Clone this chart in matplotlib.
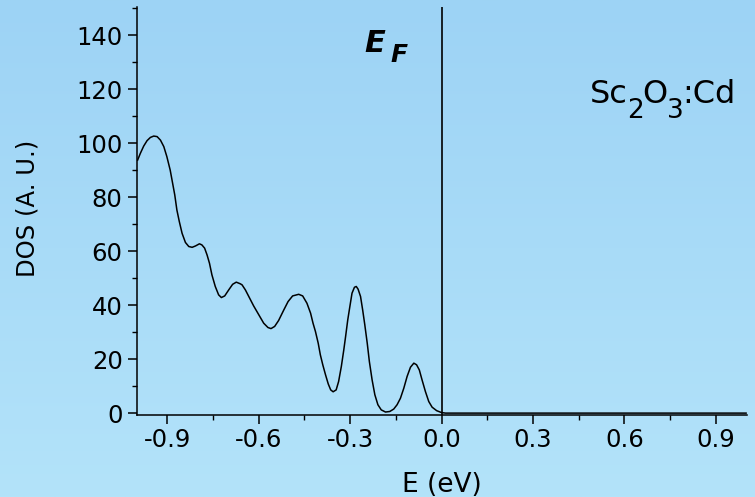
import matplotlib
matplotlib.use("Agg")
import matplotlib.pyplot as plt
import numpy as np
from matplotlib.ticker import MultipleLocator, FixedLocator

# DOS curve (E in eV, DOS in arbitrary units)
energy = [-0.998, -0.989, -0.978, -0.967, -0.956, -0.945, -0.934, -0.923,
          -0.912, -0.902, -0.891, -0.883, -0.876, -0.869, -0.861, -0.852,
          -0.841, -0.830, -0.819, -0.808, -0.795, -0.787, -0.778, -0.770,
          -0.762, -0.754, -0.743, -0.732, -0.723, -0.712, -0.699, -0.686,
          -0.674, -0.661, -0.655, -0.644, -0.633, -0.617, -0.600, -0.584,
          -0.570, -0.560, -0.548, -0.535, -0.518, -0.504, -0.489, -0.469,
          -0.456, -0.442, -0.430, -0.422, -0.414, -0.405, -0.398, -0.390,
          -0.381, -0.372, -0.364, -0.356, -0.346, -0.338, -0.329, -0.321,
          -0.315, -0.308, -0.301, -0.294, -0.286, -0.280, -0.274, -0.266,
          -0.259, -0.252, -0.244, -0.237, -0.228, -0.219, -0.209, -0.198,
          -0.184, -0.170, -0.157, -0.146, -0.135, -0.124, -0.113, -0.102,
          -0.091, -0.082, -0.073, -0.064, -0.053, -0.042, -0.031, -0.016,
          0.000, 0.013, 0.3, 0.6, 1.0]
dos = [93.7, 96.2, 98.9, 100.9, 102.1, 102.6, 102.4, 101.1,
       98.7, 95.0, 90.0, 85.1, 80.8, 75.2, 70.9, 66.6,
       63.2, 61.7, 61.4, 61.9, 62.7, 62.3, 61.1, 58.6,
       55.5, 51.2, 46.9, 43.8, 42.8, 43.4, 45.6, 47.7,
       48.5, 47.9, 47.5, 45.6, 43.2, 39.7, 36.4, 33.3,
       31.7, 31.3, 32.1, 34.3, 38.2, 41.3, 43.4, 44.0,
       43.4, 40.7, 37.0, 33.3, 30.2, 25.9, 21.6, 17.9,
       14.2, 10.8, 8.6, 7.9, 8.6, 11.7, 17.3, 23.4,
       28.4, 34.5, 39.5, 44.4, 46.6, 46.9, 45.9, 43.2,
       38.2, 32.7, 25.9, 19.1, 12.3, 6.8, 3.1, 1.2,
       0.4, 0.6, 1.5, 3.1, 5.5, 9.2, 13.6, 17.0,
       18.5, 17.9, 16.0, 12.3, 8.0, 4.3, 2.2, 0.9,
       0.2, 0.0, 0.0, 0.0, 0.0]

x_ticks = [-0.9, -0.6, -0.3, 0.0, 0.3, 0.6, 0.9]
x_labels = ["-0.9", "-0.6", "-0.3", "0.0", "0.3", "0.6", "0.9"]
x_minor = [-0.75, -0.45, -0.15, 0.15, 0.45, 0.75]
y_ticks = [0, 20, 40, 60, 80, 100, 120, 140]

plt.rcParams["font.family"] = ["DejaVu Sans"]

W, H = 755, 497
fig = plt.figure(figsize=(W / 100, H / 100), dpi=100)

# light blue gradient background
bg = fig.add_axes([0, 0, 1, 1], zorder=-1)
top = np.array([157, 211, 245]) / 255
bottom = np.array([179, 227, 250]) / 255
t = np.linspace(0, 1, 256)[:, None, None]
grad = top * (1 - t) + bottom * t
bg.imshow(np.repeat(grad, 2, axis=1), aspect="auto", extent=[0, 1, 0, 1])
bg.axis("off")

ax = fig.add_axes([137 / W, 82 / H, 610 / W, 408 / H])
ax.patch.set_alpha(0)

ax.plot(energy, dos, color="black", linewidth=1.1)
ax.axvline(0, color="black", linewidth=1.2)

ax.set_xlim(-1.0, 1.003)
ax.set_ylim(-0.7, 150.4)

ax.xaxis.set_major_locator(FixedLocator(x_ticks))
ax.set_xticklabels(x_labels)
ax.xaxis.set_minor_locator(FixedLocator(x_minor))
ax.set_yticks(y_ticks)
ax.yaxis.set_minor_locator(MultipleLocator(10))

ax.tick_params(which="major", direction="out", length=6.3, width=1.1,
               labelsize=17.5, pad=3)
ax.tick_params(which="minor", direction="out", length=3.5, width=1.0)
ax.tick_params(axis="y", which="major", pad=4)

for side in ["top", "right"]:
    ax.spines[side].set_visible(False)
for side in ["left", "bottom"]:
    ax.spines[side].set_linewidth(1.1)

# axis titles
fig.text(441.7 / W, 4.5 / H, "E (eV)", fontsize=19, ha="center", va="baseline")
fig.text(27.5 / W, 1 - 208.5 / H, "DOS (A. U.)", fontsize=17.5, rotation=90,
         ha="center", va="center")

# E_F marker
fig.text(364 / W, 1 - 51.7 / H, "E", fontsize=22, fontweight="bold",
         fontstyle="italic", ha="left", va="baseline")
fig.text(390 / W, 1 - 61.7 / H, "F", fontsize=18, fontweight="bold",
         fontstyle="italic", ha="left", va="baseline")

# Sc2O3:Cd label, pieces chained left to right
renderer = fig.canvas.get_renderer()
pieces = [("Sc", 0, 23), ("2", -14.5, 19), ("O", 0, 23), ("3", -14.5, 19),
          (":Cd", 0, 23)]
x_px = 590
for s, dy, fs in pieces:
    txt = fig.text(x_px / W, (H - 103.3 + dy) / H, s, fontsize=fs,
                   ha="left", va="baseline")
    x_px += txt.get_window_extent(renderer).width - 1

fig.savefig("out.png", dpi=100)
